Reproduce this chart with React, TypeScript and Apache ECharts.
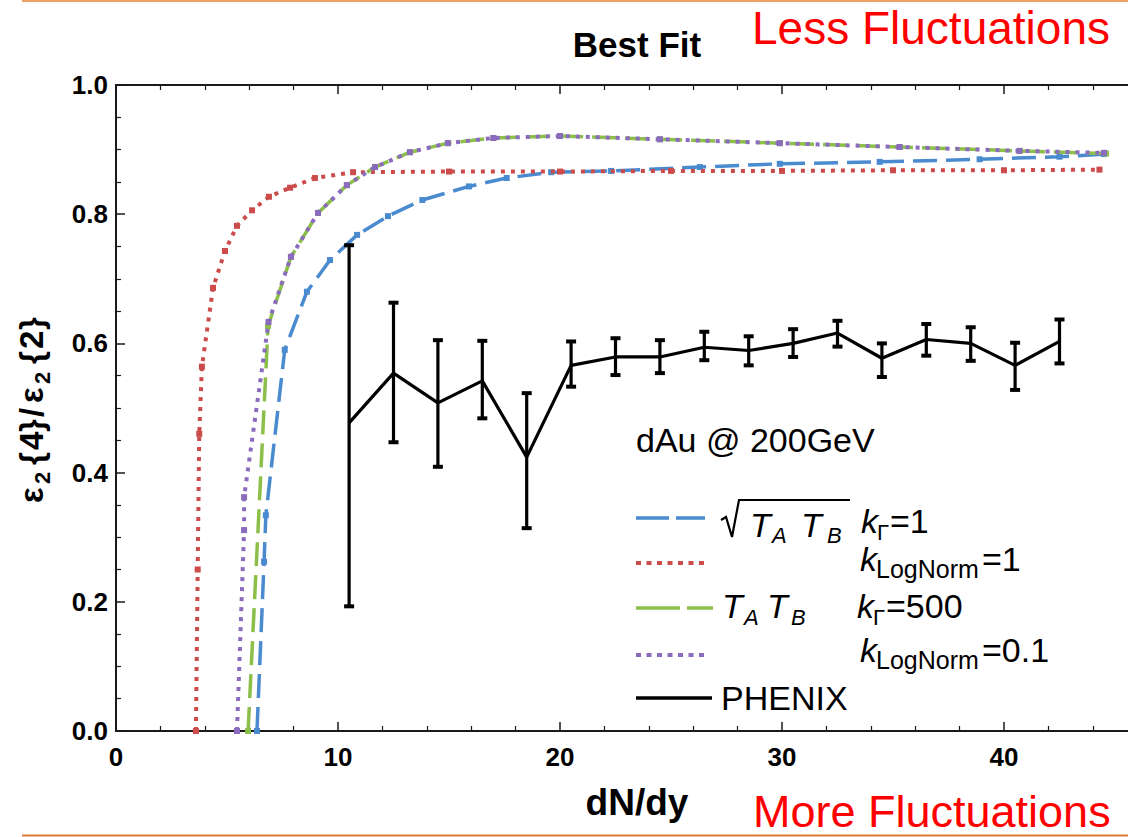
import React, { useEffect, useRef } from 'react';
import * as echarts from 'echarts';

const FONT = '"Liberation Sans", Arial, Helvetica, sans-serif';

// axis ticks
const xTickStep = 10;
const yTickStep = 0.2;

// sqrt(TA TB), k_Gamma = 1  (blue dashed)
const blueX = [6.35, 6.67, 6.75, 7.6, 8.6, 9.64, 10.86, 12.25, 13.8, 15.9, 17.6, 19.6, 22.3, 26.3, 29.9, 34.4, 38.9, 42.5, 44.5];
const blueY = [0, 0.262, 0.334, 0.59, 0.68, 0.729, 0.768, 0.797, 0.822, 0.843, 0.856, 0.865, 0.867, 0.873, 0.878, 0.881, 0.885, 0.889, 0.893];

// k_LogNorm = 1 (red dotted)
const redX = [3.6, 3.68, 3.75, 3.87, 4.37, 4.91, 5.45, 6.13, 6.89, 7.84, 8.96, 10.68, 15, 20, 25, 30, 35, 40, 44.3];
const redY = [0, 0.25, 0.46, 0.564, 0.686, 0.743, 0.782, 0.806, 0.827, 0.841, 0.856, 0.865, 0.866, 0.866, 0.867, 0.867, 0.868, 0.868, 0.869];

// TA TB, k_Gamma = 500 (green dashed)
const greenX = [5.95, 6.85, 7.88, 9.1, 10.4, 11.67, 13.24, 14.95, 17, 20, 24.5, 29.9, 35.3, 40.7, 44.6];
const greenY = [0, 0.627, 0.734, 0.802, 0.845, 0.873, 0.896, 0.91, 0.918, 0.921, 0.916, 0.91, 0.904, 0.898, 0.894];

// k_LogNorm = 0.1 (purple dotted)
const purpleX = [5.45, 5.77, 5.77, 6.87, 7.88, 9.1, 10.4, 11.67, 13.24, 14.95, 17, 20, 24.5, 29.9, 35.3, 40.7, 44.5];
const purpleY = [0, 0.311, 0.362, 0.633, 0.734, 0.802, 0.845, 0.873, 0.896, 0.91, 0.918, 0.921, 0.916, 0.91, 0.904, 0.898, 0.895];

// PHENIX data with error bars
const phenixX = [10.5, 12.5, 14.5, 16.5, 18.5, 20.5, 22.5, 24.5, 26.5, 28.5, 30.5, 32.5, 34.5, 36.5, 38.5, 40.5, 42.5];
const phenixY = [0.477, 0.554, 0.508, 0.542, 0.424, 0.566, 0.579, 0.579, 0.594, 0.589, 0.6, 0.616, 0.577, 0.606, 0.6, 0.566, 0.603];
const phenixLow = [0.193, 0.447, 0.409, 0.484, 0.314, 0.533, 0.551, 0.554, 0.574, 0.566, 0.579, 0.595, 0.548, 0.581, 0.573, 0.528, 0.569];
const phenixHigh = [0.752, 0.663, 0.605, 0.604, 0.523, 0.603, 0.608, 0.605, 0.618, 0.611, 0.622, 0.635, 0.6, 0.63, 0.625, 0.601, 0.637];

const BLUE = '#4a8bd0';
const RED = '#cc4b4b';
const GREEN = '#8cbf4a';
const PURPLE = '#8a6bbd';
const AXIS = '#1a1a1a';

const zip = (xs: number[], ys: number[]) => xs.map((x, i) => [x, ys[i]]);

function txt(text: string, x: number, baseline: number, size: number, o: any = {}) {
  return {
    type: 'text',
    x,
    y: baseline - 0.347 * size,
    silent: true,
    style: {
      text,
      fill: o.fill || '#000',
      fontSize: size,
      fontFamily: FONT,
      fontStyle: o.italic ? 'italic' : 'normal',
      fontWeight: o.bold ? 'bold' : 'normal',
      align: o.align || 'left',
      textAlign: o.align || 'left',
      verticalAlign: 'middle',
      textVerticalAlign: 'middle',
    },
  };
}

function lineSeries(name: string, xs: number[], ys: number[], color: string, dash: number[], width: number, z: number) {
  return {
    name,
    type: 'line',
    xAxisIndex: 0,
    yAxisIndex: 0,
    data: zip(xs, ys),
    symbol: 'rect',
    symbolSize: 6,
    showSymbol: true,
    z,
    itemStyle: { color },
    lineStyle: { color, width, type: dash, cap: 'butt' },
  };
}

export default function App() {
  const ref = useRef<HTMLDivElement>(null);
  useEffect(() => {
    if (!ref.current) return;
    const chart = echarts.init(ref.current, undefined, { renderer: 'svg' });

    const axisCommon = {
      type: 'value',
      axisLine: { show: true, onZero: false, lineStyle: { color: AXIS, width: 2 } },
      axisTick: { show: true, inside: true, length: 9, lineStyle: { color: AXIS, width: 1.5 } },
      minorTick: { show: true, length: 5, lineStyle: { color: AXIS, width: 1.2 } },
      splitLine: { show: false },
      minorSplitLine: { show: false },
    };

    const yLabelPieces: [string, number, number, number][] = [
      ['ε', 0, 33, 0],
      ['2', 19, 22, 11],
      ['{', 38, 33, 0],
      ['4', 53, 33, 0],
      ['}', 71, 33, 0],
      ['/', 86, 33, 0],
      ['ε', 100, 33, 0],
      ['2', 119, 22, 11],
      ['{', 139, 33, 0],
      ['2', 154, 33, 0],
      ['}', 173, 33, 0],
    ];

    const legendGraphics: any[] = [
      // orange separator lines
      { type: 'line', shape: { x1: 22, y1: 1, x2: 1128, y2: 1 }, style: { stroke: '#f0a060', lineWidth: 2 } },
      { type: 'line', shape: { x1: 22, y1: 835.5, x2: 1128, y2: 835.5 }, style: { stroke: '#e07a30', lineWidth: 2 } },
      // title & annotations
      txt('Best Fit', 637, 57, 35, { bold: true, align: 'center' }),
      txt('Less Fluctuations', 752, 44, 46, { fill: '#ff0000' }),
      txt('More Fluctuations', 753, 827, 45, { fill: '#ff0000' }),
      txt('dN/dy', 637, 815, 37, { bold: true, align: 'center' }),
      // y axis name
      {
        type: 'group',
        x: 31,
        y: 503,
        rotation: Math.PI / 2,
        children: yLabelPieces.map(([t, lx, s, dy]) => ({
          type: 'text',
          x: lx,
          y: dy,
          silent: true,
          style: {
            text: t, fill: '#000', fontSize: s, fontFamily: FONT, fontWeight: 'bold',
            align: 'left', textAlign: 'left', verticalAlign: 'middle', textVerticalAlign: 'middle',
          },
        })),
      },
      // legend
      txt('dAu @ 200GeV', 636, 452, 34),
      { type: 'line', shape: { x1: 636, y1: 518, x2: 705, y2: 518 }, style: { stroke: BLUE, lineWidth: 3.5, lineDash: [33, 7] } },
      { type: 'polyline', shape: { points: [[721, 520], [726, 517], [732, 537], [739, 500], [850, 500]] }, style: { stroke: '#000', lineWidth: 2.2, fill: null } },
      txt('T', 750, 537, 34, { italic: true }),
      txt('A', 772, 543, 22, { italic: true }),
      txt('T', 801, 537, 34, { italic: true }),
      txt('B', 827, 543, 22, { italic: true }),
      txt('k', 861, 533, 34, { italic: true }),
      txt('Γ', 877, 540, 22),
      txt('=1', 890, 533, 34),

      { type: 'line', shape: { x1: 636, y1: 563, x2: 708, y2: 563 }, style: { stroke: RED, lineWidth: 4, lineDash: [5, 5.5] } },
      txt('k', 860, 571, 34, { italic: true }),
      txt('LogNorm', 876, 578, 25),
      txt('=1', 982, 571, 34),

      { type: 'line', shape: { x1: 636, y1: 608, x2: 713, y2: 608 }, style: { stroke: GREEN, lineWidth: 3.5, lineDash: [44, 7] } },
      txt('T', 722, 618, 34, { italic: true }),
      txt('A', 744, 625, 22, { italic: true }),
      txt('T', 767, 618, 34, { italic: true }),
      txt('B', 791, 625, 22, { italic: true }),
      txt('k', 857, 618, 34, { italic: true }),
      txt('Γ', 873, 625, 22),
      txt('=500', 886, 618, 34),

      { type: 'line', shape: { x1: 636, y1: 655, x2: 708, y2: 655 }, style: { stroke: PURPLE, lineWidth: 4, lineDash: [5, 5.5] } },
      txt('k', 860, 662, 34, { italic: true }),
      txt('LogNorm', 876, 669, 25),
      txt('=0.1', 982, 662, 34),

      { type: 'line', shape: { x1: 636, y1: 698, x2: 712, y2: 698 }, style: { stroke: '#000', lineWidth: 3.5 } },
      txt('PHENIX', 721, 710, 34),
    ];

    const option: any = {
      animation: false,
      backgroundColor: '#ffffff',
      grid: { left: 116, top: 85, width: 1110, height: 646, containLabel: false, outerBoundsMode: 'none' },
      xAxis: [
        {
          ...axisCommon,
          position: 'bottom',
          min: 0,
          max: 50,
          interval: xTickStep,
          minorTick: { ...axisCommon.minorTick, splitNumber: 5 },
          axisLabel: {
            show: true, margin: 13, fontSize: 26, fontWeight: 'bold', fontFamily: FONT, color: '#000',
            formatter: (v: number) => (v > 45 ? '' : String(v)),
          },
        },
        {
          ...axisCommon,
          position: 'top',
          min: 0,
          max: 50,
          interval: xTickStep,
          minorTick: { ...axisCommon.minorTick, splitNumber: 5 },
          axisLabel: { show: false },
        },
      ],
      yAxis: [
        {
          ...axisCommon,
          position: 'left',
          min: 0,
          max: 1,
          interval: yTickStep,
          minorTick: { ...axisCommon.minorTick, splitNumber: 4 },
          axisLabel: {
            show: true, margin: 8, fontSize: 26, fontWeight: 'bold', fontFamily: FONT, color: '#000',
            formatter: (v: number) => v.toFixed(1),
          },
        },
      ],
      graphic: { elements: legendGraphics },
      series: [
        lineSeries('sqrt(TA TB) kΓ=1', blueX, blueY, BLUE, [24, 9], 3.5, 3),
        lineSeries('kLogNorm=1', redX, redY, RED, [4, 6], 4, 4),
        lineSeries('TA TB kΓ=500', greenX, greenY, GREEN, [24, 9], 3.5, 5),
        lineSeries('kLogNorm=0.1', purpleX, purpleY, PURPLE, [4, 6], 4, 6),
        {
          name: 'PHENIX',
          type: 'line',
          xAxisIndex: 0,
          yAxisIndex: 0,
          data: zip(phenixX, phenixY),
          symbol: 'none',
          z: 7,
          lineStyle: { color: '#000', width: 3.2 },
        },
        {
          name: 'PHENIX errors',
          type: 'custom',
          xAxisIndex: 0,
          yAxisIndex: 0,
          z: 7,
          data: phenixX.map((x, i) => [x, phenixLow[i], phenixHigh[i]]),
          encode: { x: 0, y: [1, 2] },
          renderItem: (params: any, api: any) => {
            const x = api.value(0);
            const top = api.coord([x, api.value(2)]);
            const bot = api.coord([x, api.value(1)]);
            const cap = 5;
            const st = { stroke: '#000', lineWidth: 3.2 };
            return {
              type: 'group',
              children: [
                { type: 'line', shape: { x1: top[0], y1: top[1], x2: bot[0], y2: bot[1] }, style: st },
                { type: 'line', shape: { x1: top[0] - cap, y1: top[1], x2: top[0] + cap, y2: top[1] }, style: { ...st, lineWidth: 4 } },
                { type: 'line', shape: { x1: bot[0] - cap, y1: bot[1], x2: bot[0] + cap, y2: bot[1] }, style: { ...st, lineWidth: 4 } },
              ],
            };
          },
        },
      ],
    };

    chart.setOption(option);
    return () => chart.dispose();
  }, []);

  return (
    <div
      ref={ref}
      style={{ position: 'absolute', left: 0, top: 0, width: 1128, height: 837, background: '#fff' }}
    />
  );
}
